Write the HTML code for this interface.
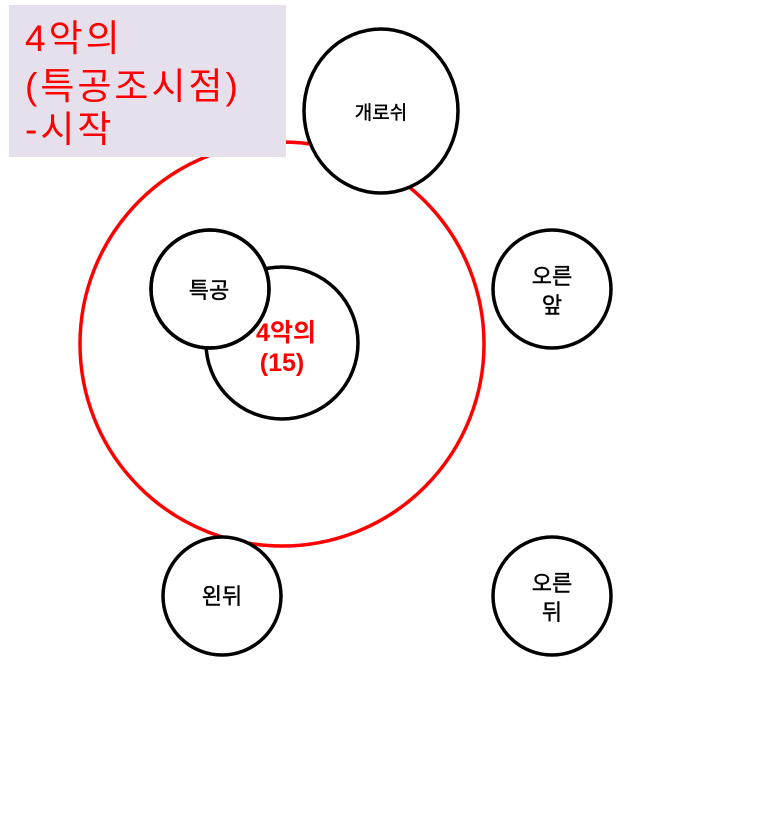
<!DOCTYPE html>
<html><head><meta charset="utf-8"><style>
html,body{margin:0;padding:0;background:#fff;}
svg{display:block;}
text{font-family:"Liberation Sans","Noto Sans CJK KR","NanumGothic",sans-serif;}
</style></head><body>
<svg width="767" height="822" viewBox="0 0 767 822" xmlns="http://www.w3.org/2000/svg">
<circle cx="282" cy="344" r="202" fill="none" stroke="#ff0000" stroke-width="3.5"/>
<rect x="9" y="5" width="277" height="152" fill="#e6e0ec"/>
<g font-size="37" fill="#ff0000" letter-spacing="3">
<text x="25" y="51">4악의</text>
<text x="25" y="99">(특공조시점)</text>
<text x="25" y="142">-시작</text>
</g>
<g fill="#fff" stroke="#000" stroke-width="3.5">
<ellipse cx="381" cy="111" rx="77" ry="82"/>
<circle cx="282" cy="343" r="76"/>
<circle cx="210" cy="289" r="59"/>
<circle cx="552" cy="289" r="59"/>
<circle cx="222" cy="596" r="59"/>
<circle cx="552" cy="596" r="59"/>
</g>
<g font-size="25" font-weight="bold" fill="#ff0000" text-anchor="middle">
<text x="286" y="341">4악의</text>
<text x="282" y="371">(15)</text>
</g>
<circle cx="210" cy="289" r="57" fill="#fff"/>
<circle cx="210" cy="289" r="59" fill="none" stroke="#000" stroke-width="3.5"/>
<g font-size="22" fill="#000" text-anchor="middle" stroke="#000" stroke-width="0.4">
<text x="381" y="119" font-size="19">개로쉬</text>
<text x="209" y="298">특공</text>
<text x="552" y="284">오른</text>
<text x="552" y="313">앞</text>
<text x="222" y="604">왼뒤</text>
<text x="552" y="591">오른</text>
<text x="552" y="620">뒤</text>
</g>
</svg>
</body></html>
